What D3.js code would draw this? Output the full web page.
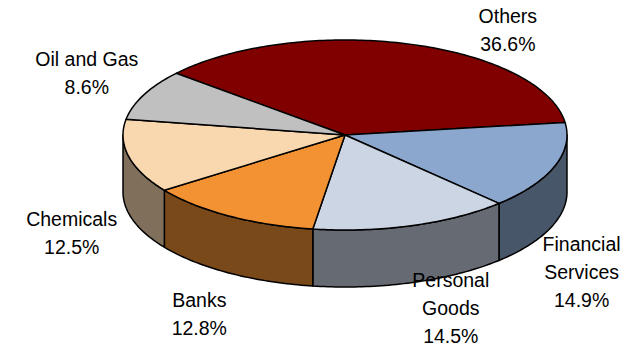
<!DOCTYPE html>
<html>
<head>
<meta charset="utf-8">
<script src="https://cdn.jsdelivr.net/npm/d3@7"></script>
<style>
  html, body { margin: 0; padding: 0; background: #fff; }
  svg { display: block; }
  text { font-family: "Liberation Sans", Arial, sans-serif; font-size: 19.5px; fill: #000; }
</style>
</head>
<body>
<svg id="chart" width="638" height="349"></svg>
<script>
// ---- data ----
const categories = ["Others", "Financial Services", "Personal Goods", "Banks", "Chemicals", "Oil and Gas"];
const values = [36.6, 14.9, 14.5, 12.8, 12.5, 8.6];
const labelLines = [["Others"], ["Financial", "Services"], ["Personal", "Goods"], ["Banks"], ["Chemicals"], ["Oil and Gas"]];
const topColors = ["#800000", "#8BA7CE", "#CCD5E3", "#F39233", "#F9D8AF", "#C0C0C0"];
const sideColors = ["#400000", "#485669", "#666A73", "#7A4919", "#7F6F5B", "#606060"];
// label offset from the rim point at each slice's mid angle (first baseline)
const labelOffsets = [[100, -21], [27, 85], [38, 62], [-30, 91], [-57, 70], [-57, -29]];

// ---- geometry ----
const cx = 345, cy = 135, rx = 222, ry = 95, depth = 57;
const startDeg = -49.5;
const lineH = 28;

const svg = d3.select("#chart");
const rad = d3.scaleLinear().domain([0, 360]).range([0, 2 * Math.PI]);
const start = rad(startDeg);

const pie = d3.pie().sort(null).value(d => d.value)
  .startAngle(start).endAngle(start + 2 * Math.PI);
const data = categories.map((c, i) => ({ name: c, value: values[i], i }));
const arcs = pie(data);

const px = t => cx + rx * Math.sin(t);
const py = t => cy - ry * Math.cos(t);

function samples(a0, a1) {
  const n = Math.max(2, Math.ceil(Math.abs(a1 - a0) / rad(1)));
  return d3.range(n + 1).map(k => a0 + (a1 - a0) * k / n);
}

// sides (front visible part: angles in [pi/2, 3pi/2])
const visLo = Math.PI / 2, visHi = 3 * Math.PI / 2;
const sides = svg.append("g");
arcs.forEach(a => {
  const lo = Math.max(a.startAngle, visLo);
  const hi = Math.min(a.endAngle, visHi);
  if (hi <= lo) return;
  const ts = samples(lo, hi);
  const p = d3.path();
  ts.forEach((t, k) => k === 0 ? p.moveTo(px(t), py(t)) : p.lineTo(px(t), py(t)));
  ts.slice().reverse().forEach(t => p.lineTo(px(t), py(t) + depth));
  p.closePath();
  sides.append("path").attr("d", p.toString())
    .attr("fill", sideColors[a.data.i])
    .attr("stroke", "#000").attr("stroke-width", 1.5).attr("stroke-linejoin", "round");
});

// tops
const tops = svg.append("g");
arcs.forEach(a => {
  const p = d3.path();
  p.moveTo(cx, cy);
  samples(a.startAngle, a.endAngle).forEach(t => p.lineTo(px(t), py(t)));
  p.closePath();
  tops.append("path").attr("d", p.toString())
    .attr("fill", topColors[a.data.i])
    .attr("stroke", "#000").attr("stroke-width", 1.5).attr("stroke-linejoin", "round");
});

// labels
const fmt = d3.format(".1f");
const labels = svg.append("g");
arcs.forEach(a => {
  const i = a.data.i;
  const mid = (a.startAngle + a.endAngle) / 2;
  const x = px(mid) + labelOffsets[i][0];
  const y = py(mid) + labelOffsets[i][1];
  const lines = labelLines[i].concat([fmt(a.data.value) + "%"]);
  const t = labels.append("text").attr("text-anchor", "middle");
  lines.forEach((s, k) => t.append("tspan").attr("x", x).attr("y", y + k * lineH).text(s));
});
</script>
</body>
</html>
